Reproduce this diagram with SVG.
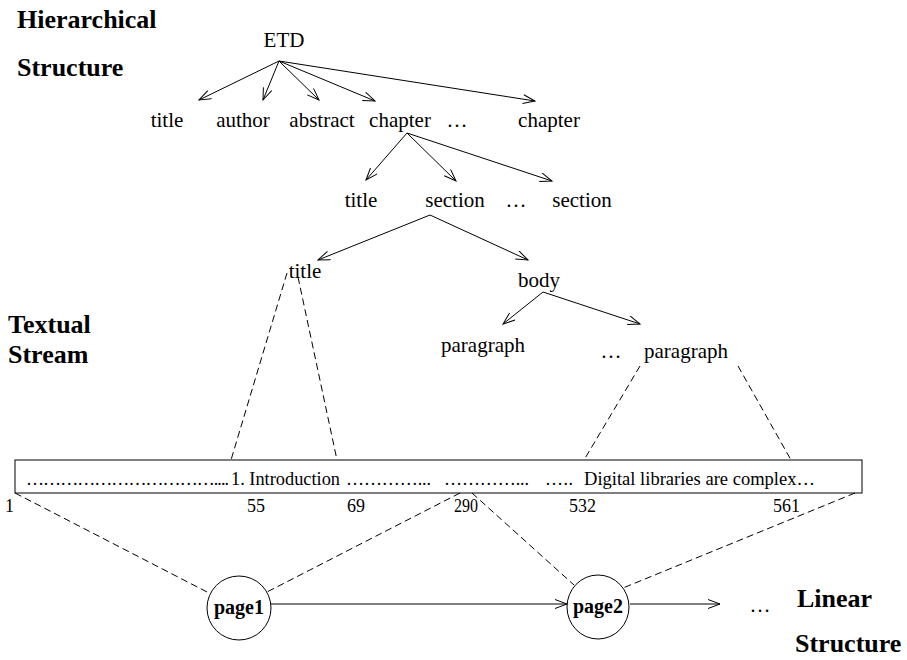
<svg xmlns="http://www.w3.org/2000/svg" width="907" height="660" viewBox="0 0 907 660">
<defs>
<marker id="arr" viewBox="0 0 14 10" refX="13" refY="5" markerWidth="14" markerHeight="10" markerUnits="userSpaceOnUse" orient="auto">
<path d="M1,0.5 L13,5 L1,9.5" fill="none" stroke="#000" stroke-width="1"/>
</marker>
<style>
text{font-family:"Liberation Serif","Times New Roman",serif;fill:#000}
.n{font-size:21px;text-anchor:middle}
.h{font-size:26px;font-weight:bold}
.s{font-size:18px}
.num{font-size:18px}
.pg{font-size:20px;font-weight:bold;text-anchor:middle}
.a{stroke:#000;stroke-width:1;fill:none;marker-end:url(#arr)}
.d{stroke:#000;stroke-width:1;fill:none;stroke-dasharray:7,4}
</style>
</defs>
<rect width="907" height="660" fill="#fff"/>
<g id="headings">
<text class="h" x="17" y="28">Hierarchical</text>
<text class="h" x="17" y="76">Structure</text>
<text class="h" x="8" y="333">Textual</text>
<text class="h" x="8" y="363">Stream</text>
<text class="h" x="797" y="607">Linear</text>
<text class="h" x="795" y="652">Structure</text>
</g>
<g id="connectors">
<line class="a" x1="279" y1="61" x2="199" y2="100"/>
<line class="a" x1="279" y1="61" x2="263" y2="100"/>
<line class="a" x1="279" y1="61" x2="319" y2="100"/>
<line class="a" x1="279" y1="61" x2="375" y2="101"/>
<line class="a" x1="279" y1="61" x2="535" y2="101"/>
<line class="a" x1="407" y1="133" x2="366" y2="180"/>
<line class="a" x1="407" y1="133" x2="456" y2="181"/>
<line class="a" x1="407" y1="133" x2="552" y2="181"/>
<line class="a" x1="430" y1="215" x2="318" y2="260"/>
<line class="a" x1="430" y1="215" x2="528" y2="260"/>
<line class="a" x1="543" y1="292" x2="503" y2="324"/>
<line class="a" x1="543" y1="292" x2="640" y2="324"/>
<line class="d" x1="287" y1="273" x2="231" y2="460"/>
<line class="d" x1="298" y1="277" x2="337" y2="460"/>
<line class="d" x1="640" y1="366" x2="584" y2="460"/>
<line class="d" x1="738" y1="366" x2="791" y2="460"/>
<line class="d" x1="15" y1="493" x2="209" y2="593"/>
<line class="d" x1="460" y1="493" x2="267" y2="592"/>
<line class="d" x1="472" y1="493" x2="574" y2="585"/>
<line class="d" x1="855" y1="493" x2="623" y2="588"/>
<line class="a" x1="271" y1="604" x2="567" y2="604"/>
<line class="a" x1="630" y1="604" x2="720" y2="604"/>
</g>
<g id="etd"><text class="n" x="284" y="47">ETD</text></g>
<g id="title1"><text class="n" x="167" y="127">title</text></g>
<g id="author"><text class="n" x="243" y="127">author</text></g>
<g id="abstract"><text class="n" x="322" y="127">abstract</text></g>
<g id="chapter1"><text class="n" x="400" y="127">chapter</text></g>
<g id="dots1"><text class="n" x="457" y="127">…</text></g>
<g id="chapter2"><text class="n" x="549" y="127">chapter</text></g>
<g id="title2"><text class="n" x="361" y="207">title</text></g>
<g id="section1"><text class="n" x="455" y="207">section</text></g>
<g id="dots2"><text class="n" x="516" y="207">…</text></g>
<g id="section2"><text class="n" x="582" y="207">section</text></g>
<g id="title3"><text class="n" x="305" y="278">title</text></g>
<g id="body"><text class="n" x="539" y="287">body</text></g>
<g id="paragraph1"><text class="n" x="483" y="352">paragraph</text></g>
<g id="dots3"><text class="n" x="611" y="358">…</text></g>
<g id="paragraph2"><text class="n" x="686" y="358">paragraph</text></g>
<g id="stream">
<rect x="15" y="460" width="847" height="33" fill="none" stroke="#000" stroke-width="1"/>
<text class="s" x="26" y="485" textLength="203" lengthAdjust="spacing">……………………………....</text>
<text class="s" x="231" y="485" textLength="109" lengthAdjust="spacingAndGlyphs">1. Introduction</text>
<text class="s" x="346" y="485" textLength="85" lengthAdjust="spacing">…………...</text>
<text class="s" x="444" y="485" textLength="85" lengthAdjust="spacing">…………...</text>
<text class="s" x="545" y="485" textLength="28" lengthAdjust="spacing">…..</text>
<text class="s" x="584" y="485" textLength="231" lengthAdjust="spacingAndGlyphs">Digital libraries are complex…</text>
<text class="num" x="5" y="512">1</text>
<text class="num" x="247" y="512">55</text>
<text class="num" x="347" y="512">69</text>
<text class="num" x="454" y="512" textLength="24" lengthAdjust="spacingAndGlyphs">290</text>
<text class="num" x="569" y="512">532</text>
<text class="num" x="773" y="512">561</text>
</g>
<g id="page1">
<ellipse cx="239" cy="608" rx="32" ry="32" fill="none" stroke="#000" stroke-width="1"/>
<text class="pg" x="239" y="614">page1</text>
</g>
<g id="page2">
<ellipse cx="598" cy="607" rx="31" ry="32" fill="none" stroke="#000" stroke-width="1"/>
<text class="pg" x="598" y="613">page2</text>
</g>
<g id="dots4"><text class="n" x="760" y="612">…</text></g>
</svg>
